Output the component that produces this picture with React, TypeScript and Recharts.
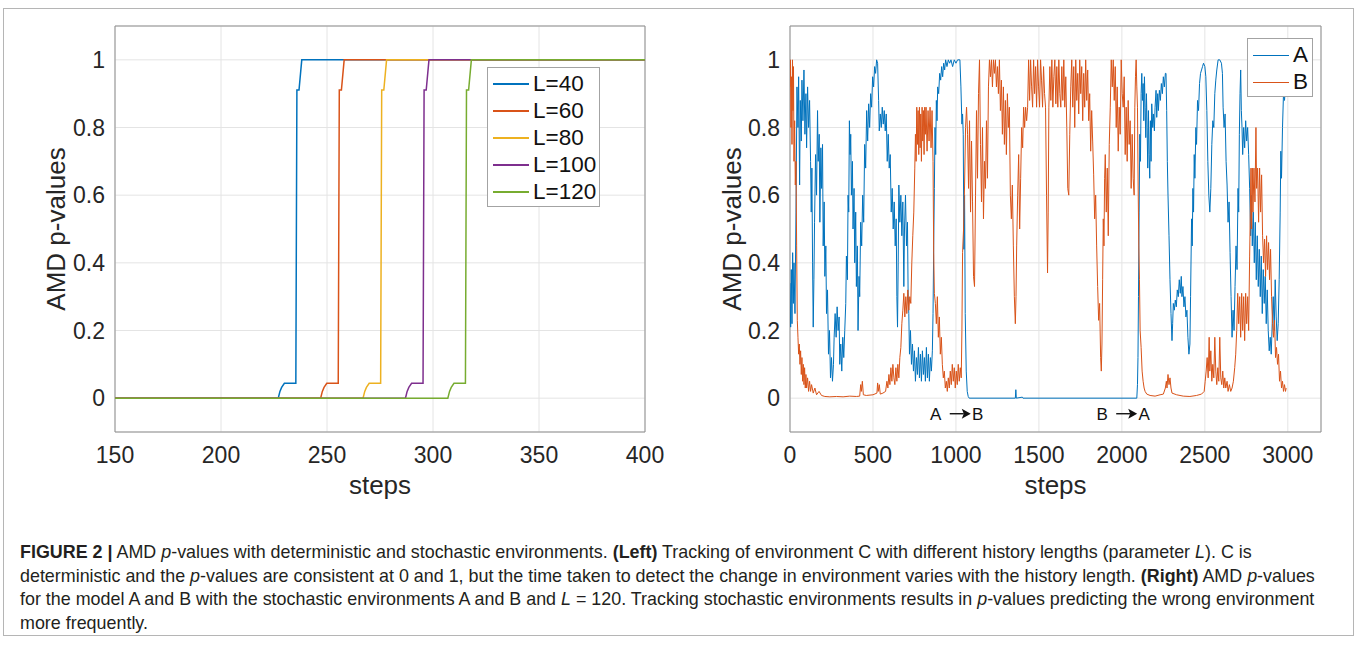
import {
  CartesianGrid,
  Legend,
  Line,
  LineChart,
  ReferenceArea,
  ReferenceDot,
  XAxis,
  YAxis,
} from 'recharts'

type Pt = [number, number]

// left panel: environment C, one trace per history length
const historyNames = ['L=40', 'L=60', 'L=80', 'L=100', 'L=120']
const historyColors = ['#0072BD', '#D95319', '#EDB120', '#7E2F8E', '#77AC30']

const pL40: Pt[] = [[150, 0], [227, 0], [227.8, 0.02], [228.6, 0.032], [229.9, 0.044], [235.3, 0.044], [235.8, 0.911], [236.8, 0.911], [238.1, 1], [400, 1]]
const pL60: Pt[] = [[150, 0], [247, 0], [247.8, 0.02], [248.6, 0.032], [249.9, 0.044], [255.3, 0.044], [255.8, 0.911], [256.8, 0.911], [258.1, 1], [400, 1]]
const pL80: Pt[] = [[150, 0], [267, 0], [267.8, 0.02], [268.6, 0.032], [269.9, 0.044], [275.3, 0.044], [275.8, 0.911], [276.8, 0.911], [278.1, 1], [400, 1]]
const pL100: Pt[] = [[150, 0], [287, 0], [287.8, 0.02], [288.6, 0.032], [289.9, 0.044], [295.3, 0.044], [295.8, 0.911], [296.8, 0.911], [298.1, 1], [400, 1]]
const pL120: Pt[] = [[150, 0], [307, 0], [307.8, 0.02], [308.6, 0.032], [309.9, 0.044], [315.3, 0.044], [315.8, 0.911], [316.8, 0.911], [318.1, 1], [400, 1]]
const historySeries = [pL40, pL60, pL80, pL100, pL120]

const leftTicks = [150, 200, 250, 300, 350, 400]
const pTicks = [0, 0.2, 0.4, 0.6, 0.8, 1]

// right panel: stochastic environments, models A and B
const modelNames = ['A', 'B']
const modelColors = ['#0072BD', '#D95319']

const pA: Pt[] = [
  [0, 0.34], [4, 0.21], [8, 0.38], [12, 0.22], [16, 0.43], [20, 0.28], [24, 0.4], [30, 0.25], [36, 0.55], [42, 0.92],
  [48, 0.8], [52, 0.95], [58, 0.63], [62, 0.88], [68, 0.76], [72, 0.94], [78, 0.82], [84, 0.97], [90, 0.78], [96, 0.9],
  [100, 0.74], [106, 0.92], [112, 0.8], [118, 0.88], [124, 0.7], [128, 0.55], [132, 0.68], [136, 0.4], [140, 0.21], [144, 0.35],
  [148, 0.52], [154, 0.72], [160, 0.6], [166, 0.85], [170, 0.7], [176, 0.78], [180, 0.52], [186, 0.74], [190, 0.62], [196, 0.75],
  [200, 0.45], [206, 0.58], [210, 0.36], [216, 0.45], [220, 0.25], [226, 0.32], [232, 0.13], [238, 0.2], [244, 0.06], [250, 0.12],
  [256, 0.05], [262, 0.1], [266, 0.18], [272, 0.25], [278, 0.18], [284, 0.27], [290, 0.2], [296, 0.24], [300, 0.1], [306, 0.16],
  [312, 0.08], [318, 0.18], [324, 0.12], [330, 0.2], [336, 0.28], [340, 0.42], [346, 0.35], [350, 0.6], [354, 0.55], [358, 0.82],
  [362, 0.72], [366, 0.78], [370, 0.6], [376, 0.7], [380, 0.5], [386, 0.62], [390, 0.4], [396, 0.55], [400, 0.33], [406, 0.45],
  [410, 0.2], [416, 0.36], [420, 0.3], [426, 0.52], [432, 0.45], [438, 0.6], [444, 0.52], [450, 0.75], [456, 0.68], [462, 0.85],
  [468, 0.76], [474, 0.87], [480, 0.8], [486, 0.9], [492, 0.86], [498, 0.95], [504, 0.92], [510, 0.98], [516, 0.96], [522, 1],
  [528, 0.99], [534, 0.88], [538, 0.79], [544, 0.84], [550, 0.8], [556, 0.86], [562, 0.81], [568, 0.85], [574, 0.79], [580, 0.84],
  [586, 0.7], [592, 0.78], [598, 0.68], [604, 0.72], [610, 0.55], [616, 0.62], [622, 0.5], [628, 0.58], [634, 0.45], [640, 0.53],
  [644, 0.3], [648, 0.21], [652, 0.4], [656, 0.63], [662, 0.52], [668, 0.6], [674, 0.48], [680, 0.58], [686, 0.33], [690, 0.5],
  [696, 0.6], [702, 0.45], [708, 0.52], [712, 0.3], [716, 0.25], [720, 0.13], [726, 0.2], [732, 0.1], [738, 0.16], [744, 0.08],
  [750, 0.14], [756, 0.05], [762, 0.12], [768, 0.07], [774, 0.15], [780, 0.06], [786, 0.13], [792, 0.05], [798, 0.14], [804, 0.07],
  [810, 0.12], [816, 0.05], [822, 0.15], [828, 0.06], [834, 0.13], [840, 0.05], [846, 0.12], [852, 0.08], [858, 0.14], [862, 0.25],
  [866, 0.45], [870, 0.62], [874, 0.8], [878, 0.72], [882, 0.88], [886, 0.82], [890, 0.92], [896, 0.9], [902, 0.96], [908, 0.94],
  [914, 0.98], [920, 0.95], [926, 0.99], [932, 0.97], [938, 1], [946, 0.98], [954, 1], [962, 0.99], [970, 1], [980, 0.98],
  [990, 1], [1000, 0.99], [1010, 1], [1024, 1], [1030, 0.92], [1036, 0.81], [1040, 0.84], [1044, 0.78], [1048, 0.44], [1052, 0.6],
  [1056, 0.25], [1062, 0.08], [1068, 0.02], [1074, 0.005], [1080, 0], [1358, 0], [1361, 0.025], [1364, 0], [1400, 0.003], [1404, 0],
  [2090, 0], [2094, 0.04], [2097, 0.12], [2100, 0.3], [2104, 0.55], [2108, 0.78], [2112, 0.7], [2116, 0.9], [2120, 0.96], [2124, 0.88],
  [2128, 0.93], [2132, 0.82], [2136, 0.95], [2140, 0.86], [2144, 0.77], [2148, 0.9], [2152, 0.8], [2156, 0.68], [2160, 0.85], [2164, 0.72],
  [2168, 0.65], [2172, 0.82], [2176, 0.7], [2180, 0.87], [2186, 0.8], [2190, 0.84], [2196, 0.79], [2200, 0.86], [2206, 0.91], [2210, 0.83],
  [2216, 0.9], [2220, 0.85], [2226, 0.91], [2232, 0.88], [2238, 0.93], [2244, 0.9], [2250, 0.95], [2256, 0.92], [2262, 0.96], [2266, 0.96],
  [2270, 0.85], [2274, 0.7], [2278, 0.6], [2284, 0.48], [2290, 0.35], [2296, 0.25], [2302, 0.17], [2306, 0.22], [2310, 0.28], [2316, 0.26],
  [2322, 0.29], [2328, 0.27], [2334, 0.32], [2340, 0.3], [2346, 0.35], [2352, 0.31], [2358, 0.36], [2362, 0.3], [2368, 0.33], [2374, 0.27],
  [2380, 0.3], [2386, 0.24], [2392, 0.26], [2398, 0.18], [2404, 0.13], [2410, 0.16], [2414, 0.3], [2420, 0.53], [2424, 0.45], [2428, 0.62],
  [2432, 0.55], [2436, 0.72], [2440, 0.65], [2446, 0.8], [2450, 0.75], [2456, 0.88], [2462, 0.85], [2468, 0.93], [2474, 0.96], [2480, 0.97],
  [2486, 0.98], [2492, 0.99], [2500, 0.98], [2506, 0.95], [2512, 0.85], [2518, 0.7], [2524, 0.6], [2530, 0.55], [2536, 0.62], [2542, 0.75],
  [2548, 0.82], [2554, 0.8], [2560, 0.9], [2566, 0.94], [2572, 0.97], [2580, 1], [2590, 1], [2600, 0.99], [2606, 0.96], [2610, 0.86],
  [2616, 0.8], [2622, 0.84], [2628, 0.7], [2634, 0.63], [2640, 0.52], [2646, 0.58], [2652, 0.43], [2658, 0.3], [2664, 0.18], [2670, 0.26],
  [2676, 0.2], [2682, 0.33], [2688, 0.45], [2694, 0.38], [2700, 0.62], [2704, 0.55], [2708, 0.78], [2712, 0.9], [2716, 0.97], [2720, 0.85],
  [2724, 0.8], [2728, 0.72], [2734, 0.8], [2740, 0.74], [2746, 0.82], [2752, 0.76], [2758, 0.8], [2764, 0.72], [2770, 0.62], [2776, 0.48],
  [2780, 0.6], [2786, 0.45], [2792, 0.55], [2798, 0.4], [2804, 0.52], [2810, 0.35], [2816, 0.48], [2822, 0.33], [2828, 0.44], [2834, 0.3],
  [2840, 0.42], [2846, 0.25], [2852, 0.38], [2858, 0.28], [2864, 0.36], [2870, 0.22], [2876, 0.32], [2882, 0.2], [2888, 0.14], [2894, 0.18],
  [2900, 0.13], [2906, 0.22], [2912, 0.3], [2918, 0.2], [2924, 0.35], [2930, 0.24], [2936, 0.17], [2942, 0.22], [2948, 0.35], [2954, 0.55],
  [2958, 0.73], [2962, 0.65], [2968, 0.8], [2974, 0.9], [2980, 0.88], [2986, 0.92],
]

const pB: Pt[] = [
  [0, 0.92], [3, 1], [6, 0.8], [9, 0.95], [12, 0.75], [15, 1], [18, 0.85], [21, 0.98], [24, 0.7], [28, 0.82],
  [32, 0.63], [36, 0.7], [40, 0.45], [44, 0.23], [48, 0.18], [52, 0.13], [56, 0.16], [60, 0.1], [64, 0.14], [68, 0.07],
  [72, 0.12], [76, 0.05], [80, 0.1], [84, 0.04], [88, 0.09], [92, 0.03], [96, 0.07], [100, 0.03], [106, 0.06], [112, 0.02],
  [118, 0.05], [124, 0.02], [130, 0.04], [140, 0.015], [150, 0.03], [160, 0.01], [175, 0.02], [190, 0.008], [210, 0.005], [240, 0.004],
  [280, 0.005], [320, 0.004], [360, 0.006], [400, 0.005], [420, 0.006], [426, 0.04], [430, 0.02], [436, 0.05], [442, 0.01], [460, 0.008],
  [500, 0.01], [524, 0.015], [528, 0.045], [532, 0.02], [538, 0.04], [544, 0.012], [560, 0.015], [576, 0.02], [584, 0.05], [590, 0.03],
  [596, 0.07], [602, 0.04], [608, 0.09], [614, 0.05], [620, 0.1], [626, 0.06], [632, 0.04], [638, 0.09], [644, 0.05], [650, 0.1],
  [656, 0.06], [662, 0.12], [668, 0.15], [674, 0.22], [680, 0.26], [686, 0.31], [692, 0.24], [698, 0.3], [704, 0.25], [710, 0.32],
  [716, 0.26], [722, 0.3], [728, 0.28], [734, 0.4], [740, 0.48], [746, 0.55], [752, 0.68], [756, 0.78], [760, 0.7], [764, 0.86],
  [768, 0.75], [772, 0.85], [776, 0.72], [780, 0.86], [784, 0.74], [788, 0.84], [792, 0.7], [796, 0.86], [800, 0.76], [804, 0.85],
  [808, 0.72], [812, 0.86], [816, 0.78], [820, 0.86], [826, 0.73], [832, 0.85], [838, 0.76], [844, 0.86], [850, 0.74], [856, 0.85],
  [862, 0.7], [866, 0.43], [870, 0.31], [876, 0.28], [882, 0.22], [888, 0.3], [894, 0.18], [900, 0.24], [906, 0.13], [912, 0.18],
  [918, 0.1], [924, 0.06], [930, 0.08], [936, 0.03], [942, 0.05], [948, 0.02], [954, 0.06], [960, 0.03], [966, 0.08], [972, 0.04],
  [978, 0.1], [984, 0.05], [990, 0.09], [996, 0.03], [1002, 0.08], [1008, 0.04], [1014, 0.1], [1020, 0.05], [1026, 0.09], [1032, 0.06],
  [1036, 0.2], [1040, 0.43], [1046, 0.5], [1052, 0.63], [1058, 0.8], [1064, 0.86], [1070, 0.78], [1076, 0.62], [1082, 0.82], [1088, 0.55],
  [1094, 0.76], [1100, 0.58], [1106, 0.36], [1112, 0.33], [1118, 0.6], [1124, 0.85], [1130, 0.65], [1136, 0.9], [1142, 1], [1148, 0.75],
  [1154, 0.58], [1160, 0.8], [1166, 0.53], [1172, 0.7], [1178, 0.62], [1184, 0.82], [1190, 0.65], [1196, 0.92], [1202, 1], [1208, 0.95],
  [1214, 1], [1220, 0.92], [1226, 1], [1232, 0.96], [1238, 1], [1244, 0.92], [1250, 0.98], [1256, 0.9], [1262, 1], [1268, 0.85],
  [1274, 0.94], [1280, 0.78], [1286, 0.92], [1292, 0.75], [1298, 0.88], [1304, 0.72], [1310, 0.9], [1316, 0.8], [1322, 0.86], [1328, 0.6],
  [1334, 0.53], [1340, 0.63], [1346, 0.45], [1352, 0.3], [1358, 0.22], [1362, 0.3], [1366, 0.45], [1372, 0.6], [1378, 0.72], [1384, 0.5],
  [1390, 0.65], [1396, 0.8], [1402, 0.74], [1408, 0.86], [1414, 0.8], [1420, 0.86], [1426, 0.82], [1432, 0.86], [1438, 1], [1444, 0.88],
  [1450, 1], [1456, 0.92], [1462, 0.86], [1468, 1], [1474, 0.9], [1480, 0.98], [1486, 0.86], [1492, 1], [1498, 0.92], [1504, 0.86],
  [1510, 1], [1516, 0.94], [1522, 0.86], [1528, 0.98], [1534, 0.9], [1540, 0.86], [1546, 0.6], [1552, 0.37], [1556, 0.55], [1560, 0.86],
  [1566, 0.98], [1572, 0.88], [1578, 1], [1584, 0.86], [1590, 0.95], [1596, 1], [1602, 0.87], [1608, 0.98], [1614, 0.86], [1620, 1],
  [1626, 0.9], [1632, 0.86], [1638, 0.98], [1644, 0.88], [1650, 1], [1656, 0.86], [1662, 0.95], [1668, 0.8], [1674, 0.62], [1680, 0.6],
  [1686, 0.78], [1692, 0.92], [1698, 1], [1704, 0.86], [1710, 0.98], [1716, 0.8], [1722, 1], [1728, 0.88], [1734, 0.96], [1740, 0.84],
  [1746, 1], [1752, 0.9], [1758, 0.98], [1764, 0.82], [1770, 0.96], [1776, 0.86], [1782, 1], [1788, 0.88], [1794, 0.97], [1800, 0.82],
  [1806, 0.9], [1812, 0.73], [1818, 0.85], [1824, 0.76], [1830, 0.66], [1836, 0.53], [1842, 0.6], [1848, 0.45], [1854, 0.33], [1860, 0.23],
  [1866, 0.28], [1872, 0.12], [1876, 0.08], [1880, 0.16], [1884, 0.35], [1888, 0.53], [1892, 0.45], [1896, 0.65], [1900, 0.72], [1906, 0.55],
  [1912, 0.68], [1918, 0.48], [1924, 0.75], [1930, 0.86], [1936, 1], [1942, 0.92], [1948, 1], [1954, 0.88], [1960, 0.98], [1966, 0.8],
  [1972, 0.92], [1978, 0.73], [1984, 0.86], [1990, 0.78], [1996, 1], [2002, 0.9], [2008, 0.86], [2014, 0.95], [2020, 0.72], [2026, 0.86],
  [2032, 0.7], [2038, 0.88], [2044, 0.75], [2050, 0.82], [2056, 0.62], [2062, 0.78], [2068, 0.65], [2074, 0.6], [2078, 0.86], [2082, 0.95],
  [2086, 1], [2090, 0.92], [2094, 0.86], [2098, 0.63], [2102, 0.45], [2106, 0.35], [2110, 0.2], [2116, 0.15], [2122, 0.08], [2128, 0.05],
  [2134, 0.03], [2140, 0.02], [2150, 0.012], [2170, 0.008], [2200, 0.006], [2230, 0.01], [2250, 0.012], [2262, 0.03], [2268, 0.05], [2272, 0.03],
  [2278, 0.07], [2284, 0.04], [2290, 0.06], [2296, 0.03], [2302, 0.015], [2330, 0.01], [2370, 0.006], [2410, 0.005], [2450, 0.008], [2480, 0.012],
  [2496, 0.02], [2502, 0.05], [2508, 0.08], [2514, 0.12], [2520, 0.06], [2526, 0.18], [2530, 0.08], [2536, 0.14], [2542, 0.05], [2548, 0.1],
  [2554, 0.06], [2560, 0.18], [2566, 0.08], [2572, 0.04], [2578, 0.09], [2584, 0.05], [2590, 0.18], [2596, 0.06], [2602, 0.04], [2608, 0.08],
  [2614, 0.03], [2620, 0.06], [2626, 0.03], [2634, 0.05], [2640, 0.02], [2648, 0.04], [2656, 0.02], [2664, 0.03], [2672, 0.05], [2680, 0.09],
  [2686, 0.13], [2692, 0.2], [2698, 0.31], [2704, 0.22], [2710, 0.3], [2716, 0.18], [2722, 0.31], [2728, 0.2], [2734, 0.3], [2740, 0.17],
  [2746, 0.31], [2752, 0.22], [2758, 0.3], [2764, 0.2], [2770, 0.42], [2774, 0.55], [2778, 0.68], [2782, 0.5], [2786, 0.68], [2790, 0.55],
  [2796, 0.68], [2802, 0.58], [2808, 0.8], [2812, 0.62], [2818, 0.68], [2824, 0.52], [2830, 0.68], [2836, 0.55], [2842, 0.66], [2848, 0.48],
  [2854, 0.4], [2860, 0.47], [2866, 0.36], [2872, 0.48], [2878, 0.38], [2884, 0.46], [2890, 0.35], [2896, 0.44], [2902, 0.3], [2908, 0.22],
  [2914, 0.18], [2920, 0.23], [2926, 0.12], [2932, 0.15], [2938, 0.1], [2944, 0.13], [2950, 0.05], [2956, 0.08], [2962, 0.03], [2968, 0.05],
  [2974, 0.02], [2980, 0.04], [2986, 0.02], [2990, 0.03],
]
const modelSeries = [pA, pB]

const rightTicks = [0, 500, 1000, 1500, 2000, 2500, 3000]

const transitions = [
  { step: 1005, from: 'A', to: 'B' },
  { step: 2008, from: 'B', to: 'A' },
]

const FONT = '"Liberation Sans", Arial, Helvetica, sans-serif'
const INK = '#262626'
const GRID = '#e4e4e4'
const BOX = '#8f8f8f'

const toRows = (pts: Pt[]) => pts.map(([step, p]) => ({ step, p }))

function formatP(v: number) {
  return String(Number(v.toFixed(1)))
}

function BoxLegend({ names, colors, strokeWidth }: { names: string[]; colors: string[]; strokeWidth: number }) {
  return (
    <div
      style={{
        boxSizing: 'border-box',
        width: '100%',
        height: '100%',
        border: '1px solid #a3a3a3',
        background: '#fff',
        paddingTop: 3,
        fontFamily: FONT,
      }}
    >
      {names.map((name, i) => (
        <div key={name} style={{ display: 'flex', alignItems: 'center', height: 26.8 }}>
          <span
            style={{
              display: 'inline-block',
              width: 36,
              height: strokeWidth,
              marginLeft: 5,
              background: colors[i],
            }}
          />
          <span style={{ marginLeft: 4, fontSize: 22.5, lineHeight: '26px', color: '#111' }}>{name}</span>
        </div>
      ))}
    </div>
  )
}

function TransitionMark(props: any) {
  const { cx, cy, from, to } = props
  if (cx == null || cy == null) return null
  return (
    <g fontFamily={FONT} fontSize={17} fill="#111">
      <text x={cx - 21} y={cy + 6} textAnchor="middle">{from}</text>
      <line x1={cx - 7} y1={cy} x2={cx + 7} y2={cy} stroke="#111" strokeWidth={1.4} />
      <path d={`M${cx + 14},${cy} L${cx + 5},${cy - 5} L${cx + 7},${cy} L${cx + 5},${cy + 5} Z`} fill="#111" />
      <text x={cx + 21} y={cy + 6} textAnchor="middle">{to}</text>
    </g>
  )
}

const axisTick = { fontSize: 23, fill: INK, fontFamily: FONT }
const titleStyle = { fontSize: 26, fill: INK, fontFamily: FONT }

function LeftPanel() {
  return (
    <LineChart width={680} height={502} margin={{ top: 26, right: 35, bottom: 0, left: 0 }}>
      <CartesianGrid stroke={GRID} />
      <XAxis
        dataKey="step"
        type="number"
        domain={[150, 400]}
        ticks={leftTicks}
        interval={0}
        allowDataOverflow
        height={70}
        axisLine={false}
        tickLine={false}
        tickMargin={9}
        tick={axisTick}
        label={{ value: 'steps', position: 'insideBottom', offset: 8, style: titleStyle }}
      />
      <YAxis
        type="number"
        domain={[-0.1, 1.1]}
        ticks={pTicks}
        interval={0}
        allowDataOverflow
        width={115}
        axisLine={false}
        tickLine={false}
        tickMargin={4}
        tick={axisTick}
        tickFormatter={formatP}
        label={{ value: 'AMD p-values', angle: -90, position: 'center', dx: -2, style: titleStyle }}
      />
      <ReferenceArea x1={150} x2={400} y1={-0.1} y2={1.1} fill="none" stroke={BOX} strokeWidth={1} />
      {historySeries.map((pts, i) => (
        <Line
          key={historyNames[i]}
          name={historyNames[i]}
          data={toRows(pts)}
          dataKey="p"
          type="linear"
          stroke={historyColors[i]}
          strokeWidth={1.5}
          dot={false}
          activeDot={false}
          isAnimationActive={false}
        />
      ))}
      <Legend
        layout="vertical"
        align="center"
        verticalAlign="middle"
        content={() => <BoxLegend names={historyNames} colors={historyColors} strokeWidth={2} />}
        wrapperStyle={{ left: 487, top: 67, width: 113, height: 140, bottom: 'auto' }}
      />
    </LineChart>
  )
}

function RightPanel() {
  return (
    <LineChart width={670} height={502} margin={{ top: 26, right: 29, bottom: 0, left: 0 }}>
      <CartesianGrid stroke={GRID} />
      <XAxis
        dataKey="step"
        type="number"
        domain={[0, 3200]}
        ticks={rightTicks}
        interval={0}
        allowDataOverflow
        height={70}
        axisLine={false}
        tickLine={false}
        tickMargin={9}
        tick={axisTick}
        label={{ value: 'steps', position: 'insideBottom', offset: 8, style: titleStyle }}
      />
      <YAxis
        type="number"
        domain={[-0.1, 1.1]}
        ticks={pTicks}
        interval={0}
        allowDataOverflow
        width={110}
        axisLine={false}
        tickLine={false}
        tickMargin={4}
        tick={axisTick}
        tickFormatter={formatP}
        label={{ value: 'AMD p-values', angle: -90, position: 'center', dx: -3, style: titleStyle }}
      />
      <ReferenceArea x1={0} x2={3200} y1={-0.1} y2={1.1} fill="none" stroke={BOX} strokeWidth={1} />
      {modelSeries.map((pts, i) => (
        <Line
          key={modelNames[i]}
          name={modelNames[i]}
          data={toRows(pts)}
          dataKey="p"
          type="linear"
          stroke={modelColors[i]}
          strokeWidth={1}
          dot={false}
          activeDot={false}
          isAnimationActive={false}
        />
      ))}
      {transitions.map((t) => (
        <ReferenceDot
          key={t.step}
          x={t.step}
          y={-0.046}
          r={0}
          shape={(props: any) => <TransitionMark {...props} from={t.from} to={t.to} />}
        />
      ))}
      <Legend
        layout="vertical"
        align="center"
        verticalAlign="middle"
        content={() => <BoxLegend names={modelNames} colors={modelColors} strokeWidth={1} />}
        wrapperStyle={{ left: 567, top: 38, width: 66, height: 59, bottom: 'auto' }}
      />
    </LineChart>
  )
}

export default function App() {
  return (
    <div style={{ position: 'absolute', left: 0, top: 0, width: 1358, height: 646, background: '#fff', fontFamily: FONT }}>
      <div
        style={{
          position: 'absolute',
          left: 3,
          top: 8,
          width: 1351,
          height: 628,
          border: '1px solid #b5b5b5',
          boxSizing: 'border-box',
        }}
      />
      <div style={{ position: 'absolute', left: 0, top: 0 }}>
        <LeftPanel />
      </div>
      <div style={{ position: 'absolute', left: 680, top: 0 }}>
        <RightPanel />
      </div>
      <div
        style={{
          position: 'absolute',
          left: 20,
          top: 541,
          fontSize: 17.9,
          lineHeight: '23.6px',
          color: '#231f20',
          whiteSpace: 'nowrap',
        }}
      >
        <b>FIGURE 2 |</b> AMD <i>p</i>-values with deterministic and stochastic environments. <b>(Left)</b> Tracking of
        environment C with different history lengths (parameter <i>L</i>). C is
        <br />
        deterministic and the <i>p</i>-values are consistent at 0 and 1, but the time taken to detect the change in
        environment varies with the history length. <b>(Right)</b> AMD <i>p</i>-values
        <br />
        for the model A and B with the stochastic environments A and B and <i>L</i> = 120. Tracking stochastic
        environments results in <i>p</i>-values predicting the wrong environment
        <br />
        more frequently.
      </div>
    </div>
  )
}
